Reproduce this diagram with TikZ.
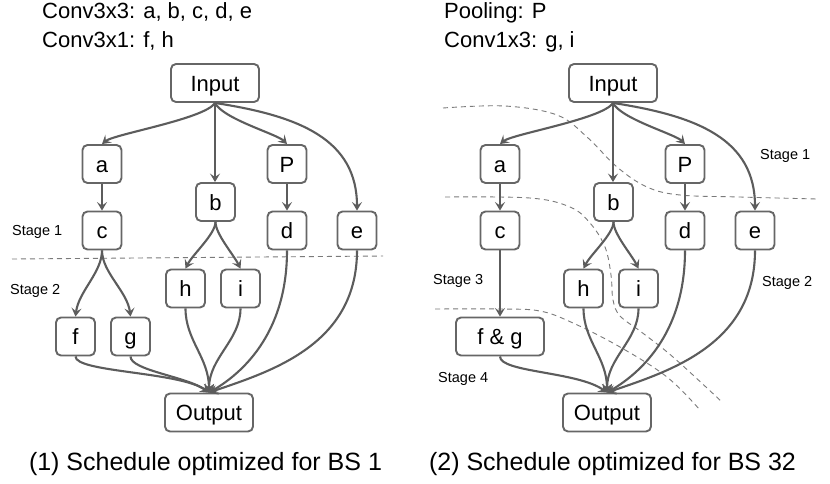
\documentclass[tikz,border=0pt]{standalone}
\usepackage{fontspec}
\setmainfont{Liberation Sans}
\usetikzlibrary{arrows.meta}
\definecolor{edgegray}{HTML}{5C5C5C}
\definecolor{boxgray}{HTML}{666666}
\definecolor{dashgray}{HTML}{7A7A7A}
\tikzset{
  smallbox/.style={draw=boxgray, line width=1.9pt, rounded corners=5pt, minimum width=39pt, minimum height=38pt, inner sep=0pt, text height=16pt, text depth=0pt, font=\fontsize{22}{26}\selectfont},
  widebox/.style={smallbox, minimum width=88pt},
  conn/.style={draw=edgegray, line width=2.1pt, -{Stealth[length=8.5pt,width=10pt,inset=3.5pt]}},
  stagesep/.style={draw=dashgray, line width=0.9pt, dash pattern=on 5pt off 4pt},
  toptext/.style={anchor=base west, inner sep=0pt, font=\fontsize{22}{26}\selectfont},
  stagetext/.style={anchor=base west, inner sep=0pt, font=\fontsize{14.5}{17}\selectfont},
  captext/.style={anchor=base, inner sep=0pt, font=\fontsize{25}{30}\selectfont}
}
\begin{document}
\begin{tikzpicture}[x=1pt,y=-1pt]
\useasboundingbox (0,0) rectangle (830,483);
\fill[white] (0,0) rectangle (830,483);

% ---------- left panel ----------
\node[toptext] (Lt1) at (42,18.5) {Conv3x3: a, b, c, d, e};
\node[toptext] (Lt2) at (42,47) {Conv3x1: f, h};

\node[widebox] (Lin) at (215,83) {Input};
\node[smallbox] (La) at (102,164) {a};
\node[smallbox] (Lb) at (215.5,202) {b};
\node[smallbox] (LP) at (287,164) {P};
\node[smallbox] (Lc) at (102,230.5) {c};
\node[smallbox] (Ld) at (287,230.5) {d};
\node[smallbox] (Le) at (357,230.5) {e};
\node[smallbox] (Lh) at (185.5,288.5) {h};
\node[smallbox] (Li) at (240.5,288.5) {i};
\node[smallbox] (Lf) at (75.5,336.5) {f};
\node[smallbox] (Lg) at (130.5,336.5) {g};
\node[widebox] (Lout) at (209,412.5) {Output};

\draw[stagesep] (12,259) -- (383,256);
\node[stagetext] (Ls1) at (12,235) {Stage 1};
\node[stagetext] (Ls2) at (10,294) {Stage 2};

\draw[conn] (Lin.south) .. controls +(-10,16) and +(12,-10) .. (La.north);
\draw[conn] (Lin.south) -- (Lin.south |- Lb.north);
\draw[conn] (Lin.south) .. controls +(8,16) and +(-10,-10) .. (LP.north);
\draw[conn] (Lin.south) .. controls +(85,13) and +(0,-71) .. (Le.north);
\draw[conn] (La) -- (Lc);
\draw[conn] (LP) -- (Ld);
\draw[conn] (Lb.south) .. controls +(0,12) and +(7,-14) .. (Lh.north);
\draw[conn] (Lb.south) .. controls +(0,12) and +(-7,-14) .. (Li.north);
\draw[conn] (Lc.south) .. controls +(0,22) and +(3,-25) .. (Lf.north);
\draw[conn] (Lc.south) .. controls +(0,22) and +(-3,-25) .. (Lg.north);
\draw[conn] (Lf.south) .. controls +(0,16) and +(-29,-21) .. (Lout.north);
\draw[conn] (Lg.south) .. controls +(0,14) and +(-22,-16) .. (Lout.north);
\draw[conn] (Lh.south) .. controls +(0,32) and +(0,-35) .. (Lout.north);
\draw[conn] (Li.south) .. controls +(0,32) and +(0,-35) .. (Lout.north);
\draw[conn] (Ld.south) .. controls +(0,85) and +(31,-18) .. (Lout.north);
\draw[conn] (Le.south) .. controls +(0,95) and +(61,-21) .. (Lout.north);

\node[captext] (Lcap) at (205.5,470) {(1) Schedule optimized for BS 1};

% ---------- right panel ----------
\node[toptext] (Rt1) at (444,18.5) {Pooling: P};
\node[toptext] (Rt2) at (444,47) {Conv1x3: g, i};

\draw[stagesep] plot[smooth, tension=0.6] coordinates {(443,108) (505,106) (557,115) (587,137) (617,167) (647,187) (680,195) (740,197) (817,199)};
\draw[stagesep] plot[smooth, tension=0.6] coordinates {(445,197) (530,198) (570,207) (590,223) (605,247) (611,275) (613,300) (620,316) (640,331) (673,357) (722,402)};
\draw[stagesep] plot[smooth, tension=0.6] coordinates {(435,309) (500,309) (540,311) (573,323) (620,347) (667,377) (700,410)};

\node[widebox] (Rin) at (613,83) {Input};
\node[smallbox] (Ra) at (500,164) {a};
\node[smallbox] (Rb) at (613.5,202) {b};
\node[smallbox] (RP) at (685,164) {P};
\node[smallbox] (Rc) at (500,230.5) {c};
\node[smallbox] (Rd) at (685,230.5) {d};
\node[smallbox] (Re) at (755,230.5) {e};
\node[smallbox] (Rh) at (583.5,288.5) {h};
\node[smallbox] (Ri) at (638.5,288.5) {i};
\node[widebox] (Rfg) at (500,336.5) {f \& g};
\node[widebox] (Rout) at (607,412.5) {Output};

\node[stagetext] (Rs1) at (760,159) {Stage 1};
\node[stagetext] (Rs3) at (433,284) {Stage 3};
\node[stagetext] (Rs2) at (762,286) {Stage 2};
\node[stagetext] (Rs4) at (438,382.5) {Stage 4};

\draw[conn] (Rin.south) .. controls +(-10,16) and +(12,-10) .. (Ra.north);
\draw[conn] (Rin.south) -- (Rin.south |- Rb.north);
\draw[conn] (Rin.south) .. controls +(8,16) and +(-10,-10) .. (RP.north);
\draw[conn] (Rin.south) .. controls +(85,13) and +(0,-71) .. (Re.north);
\draw[conn] (Ra) -- (Rc);
\draw[conn] (RP) -- (Rd);
\draw[conn] (Rb.south) .. controls +(0,12) and +(7,-14) .. (Rh.north);
\draw[conn] (Rb.south) .. controls +(0,12) and +(-7,-14) .. (Ri.north);
\draw[conn] (Rc) -- (Rfg);
\draw[conn] (Rfg.south) .. controls +(0,16) and +(-29,-21) .. (Rout.north);
\draw[conn] (Rh.south) .. controls +(0,32) and +(0,-35) .. (Rout.north);
\draw[conn] (Ri.south) .. controls +(0,32) and +(0,-35) .. (Rout.north);
\draw[conn] (Rd.south) .. controls +(0,85) and +(31,-18) .. (Rout.north);
\draw[conn] (Re.south) .. controls +(0,95) and +(61,-21) .. (Rout.north);

\node[captext] (Rcap) at (612.5,470) {(2) Schedule optimized for BS 32};
\end{tikzpicture}
\end{document}
